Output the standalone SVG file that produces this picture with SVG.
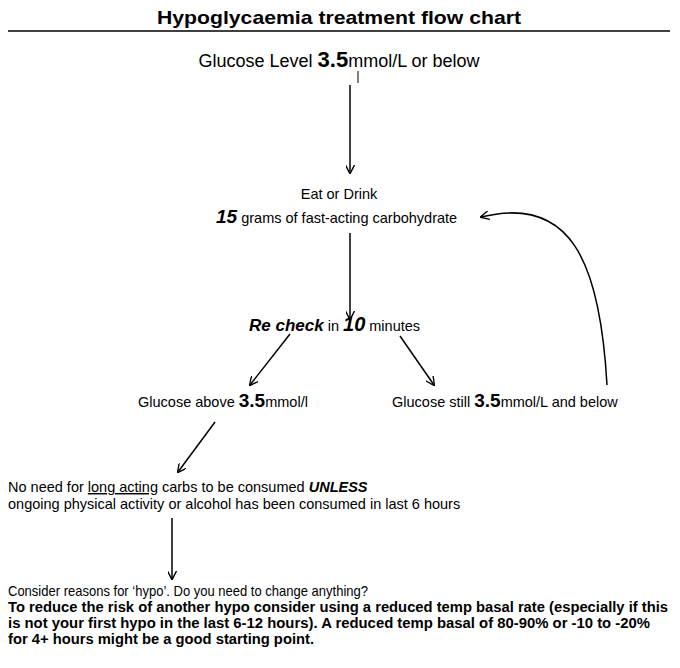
<svg xmlns="http://www.w3.org/2000/svg" width="680" height="668" viewBox="0 0 680 668">
<style>
text{font-family:"Liberation Sans",Arial,sans-serif;fill:#000}
.c{stroke:#000;stroke-width:1.5;fill:none}
</style>
<defs><marker id="a" viewBox="0 0 10 10" refX="9" refY="5" markerWidth="9" markerHeight="9" orient="auto" markerUnits="userSpaceOnUse"><path d="M0,0L10,5L0,10" fill="none" stroke="#000" stroke-width="1.5"/></marker></defs>
<rect width="680" height="668" fill="#fff"/>
<g id="title"><text x="339" y="24" text-anchor="middle" font-weight="bold" font-size="19" textLength="364" lengthAdjust="spacingAndGlyphs">Hypoglycaemia treatment flow chart</text><line x1="8" y1="31" x2="670" y2="31" stroke="#000" stroke-width="1.5"/></g>
<g id="start"><text x="339" y="67" text-anchor="middle" font-size="18">Glucose Level <tspan font-weight="bold" font-size="22">3.5</tspan>mmol/L or below</text><line x1="358" y1="71" x2="358" y2="83" stroke="#000" stroke-width="1"/></g>
<g id="eat"><text x="339" y="199" text-anchor="middle" font-size="14.5">Eat or Drink</text><text x="216" y="223" font-size="14.5"><tspan font-weight="bold" font-style="italic" font-size="19">15</tspan> grams of fast-acting carbohydrate</text></g>
<g id="recheck"><text x="249" y="331" font-size="14.5"><tspan font-weight="bold" font-style="italic" font-size="17">Re check</tspan> in <tspan font-weight="bold" font-style="italic" font-size="20">10</tspan> minutes</text></g>
<g id="above"><text x="138" y="407" font-size="14.5">Glucose above <tspan font-weight="bold" font-size="19">3.5</tspan>mmol/l</text></g>
<g id="below"><text x="392" y="407" font-size="14.5">Glucose still <tspan font-weight="bold" font-size="19">3.5</tspan>mmol/L and below</text></g>
<g id="noneed"><text x="8" y="492" font-size="14.5">No need for <tspan text-decoration="underline">long acting</tspan> carbs to be consumed <tspan font-weight="bold" font-style="italic">UNLESS</tspan></text><text x="8" y="509" font-size="14.5">ongoing physical activity or alcohol has been consumed in last 6 hours</text></g>
<g id="consider"><text x="8" y="596" font-size="14.5" textLength="360" lengthAdjust="spacingAndGlyphs">Consider reasons for ‘hypo’.  Do you need to change anything?</text>
<text font-weight="bold" font-size="14.5"><tspan x="8" y="612" textLength="660" lengthAdjust="spacingAndGlyphs">To reduce the risk of another hypo consider using a reduced temp basal rate (especially if this</tspan><tspan x="8" y="628" textLength="642" lengthAdjust="spacingAndGlyphs">is not your first hypo in the last 6-12 hours).  A reduced temp basal of 80-90% or -10 to -20%</tspan><tspan x="8" y="644" textLength="306" lengthAdjust="spacingAndGlyphs">for 4+ hours might be a good starting point.</tspan></text></g>
<g id="connectors">
<line class="c" x1="350" y1="85" x2="350" y2="173" marker-end="url(#a)"/>
<line class="c" x1="350" y1="233" x2="350" y2="319" marker-end="url(#a)"/>
<line class="c" x1="290" y1="334" x2="250" y2="385" marker-end="url(#a)"/>
<line class="c" x1="400" y1="336" x2="434" y2="385" marker-end="url(#a)"/>
<path class="c" d="M607,385 C600,260 570,195 481,217" marker-end="url(#a)"/>
<line class="c" x1="215" y1="422" x2="178" y2="472" marker-end="url(#a)"/>
<line class="c" x1="172" y1="518" x2="172" y2="579" marker-end="url(#a)"/>
</g>
</svg>
